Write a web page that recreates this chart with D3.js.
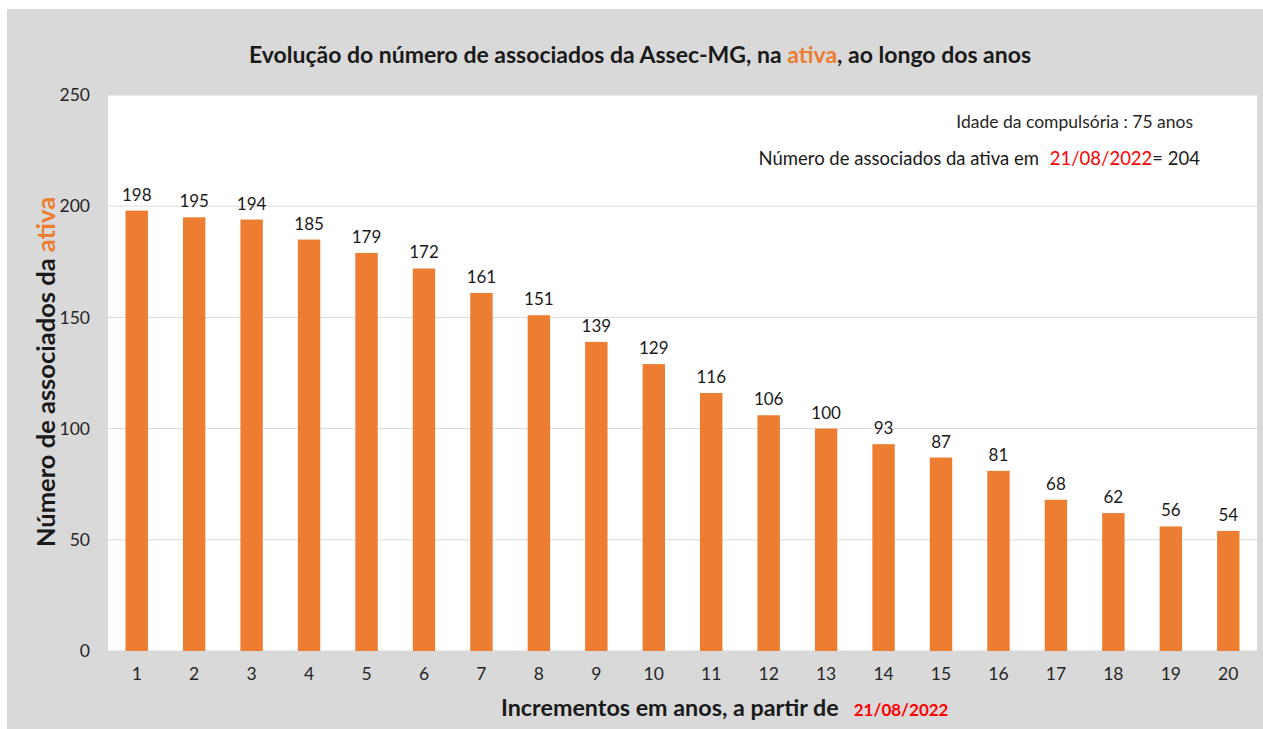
<!DOCTYPE html>
<html>
<head>
<meta charset="utf-8">
<script src="https://cdn.jsdelivr.net/npm/d3@7"></script>
<style>
  body { margin: 0; background: #fff; }
  svg { display: block; font-family: Lato, "Open Sans", sans-serif; }
</style>
</head>
<body>
<svg id="chart"></svg>
<script>
const categories = ['1','2','3','4','5','6','7','8','9','10','11','12','13','14','15','16','17','18','19','20'];
const values = [198,195,194,185,179,172,161,151,139,129,116,106,100,93,87,81,68,62,56,54];
const yTicks = [0,50,100,150,200,250];

const W = 1263, H = 729;
const margin = { top: 95, right: 6, bottom: 78, left: 108 };
const width = W - margin.left - margin.right;
const height = H - margin.top - margin.bottom;
const orange = '#ed7d31';
const red = '#ff0000';

const svgEl = d3.select('#chart').attr('width', W).attr('height', H);

svgEl.append('rect').attr('x', 7).attr('y', 9).attr('width', W - 7).attr('height', H - 9).attr('fill', '#d9d9d9');

const svg = svgEl.append('g').attr('transform', `translate(${margin.left},${margin.top})`);

svg.append('rect').attr('width', width).attr('height', height).attr('fill', '#fff');

const x = d3.scaleBand().domain(categories).range([0, width]).paddingInner(0.61).paddingOuter(0.305);
const y = d3.scaleLinear().domain([0, 250]).range([height, 0]);

// gridlines
svg.append('g')
  .selectAll('line')
  .data(yTicks)
  .join('line')
  .attr('x1', 0).attr('x2', width)
  .attr('y1', d => y(d)).attr('y2', d => y(d))
  .attr('stroke', '#d9d9d9').attr('stroke-width', 1);

// y axis labels
const yAxis = svg.append('g').call(d3.axisLeft(y).tickValues(yTicks).tickSize(0).tickPadding(18));
yAxis.select('.domain').remove();
yAxis.selectAll('text').attr('font-size', 17.5).attr('fill', '#262626').attr('font-family', 'Lato, sans-serif');

// x axis labels
const xAxis = svg.append('g').attr('transform', `translate(0,${height})`)
  .call(d3.axisBottom(x).tickSize(0).tickPadding(17));
xAxis.select('.domain').remove();
xAxis.selectAll('text').attr('font-size', 17.5).attr('fill', '#262626').attr('font-family', 'Lato, sans-serif');

// bars
svg.append('g')
  .selectAll('rect')
  .data(values)
  .join('rect')
  .attr('x', (d, i) => x(categories[i]))
  .attr('y', d => y(d))
  .attr('width', x.bandwidth())
  .attr('height', d => height - y(d))
  .attr('fill', orange);

// data labels
svg.append('g')
  .selectAll('text')
  .data(values)
  .join('text')
  .attr('x', (d, i) => x(categories[i]) + x.bandwidth() / 2)
  .attr('y', d => y(d) - 10)
  .attr('text-anchor', 'middle')
  .attr('font-size', 17)
  .attr('fill', '#1a1a1a')
  .text(d => d);

// title
const title = svgEl.append('text')
  .attr('x', 640).attr('y', 63)
  .attr('text-anchor', 'middle')
  .attr('font-size', 23).attr('font-weight', 'bold').attr('fill', '#1a1a1a');
title.append('tspan').text('Evolução do número de associados da Assec-MG, na ');
title.append('tspan').attr('fill', orange).text('ativa');
title.append('tspan').text(', ao longo dos anos');

// annotations
svgEl.append('text')
  .attr('x', 1193).attr('y', 128)
  .attr('text-anchor', 'end')
  .attr('font-size', 17.5).attr('fill', '#262626')
  .text('Idade da compulsória : 75 anos');

const note = svgEl.append('text')
  .attr('x', 1200).attr('y', 165)
  .attr('text-anchor', 'end')
  .attr('font-size', 18.5).attr('fill', '#1a1a1a');
note.append('tspan').text('Número de associados da ativa em ');
note.append('tspan').attr('fill', red).attr('dx', 6).text('21/08/2022');
note.append('tspan').text('= 204');

// y axis title
const yTitle = svgEl.append('text')
  .attr('transform', `translate(55,${372}) rotate(-90)`)
  .attr('text-anchor', 'middle')
  .attr('font-size', 25.5).attr('font-weight', 'bold').attr('fill', '#1a1a1a');
yTitle.append('tspan').text('Número de associados da ');
yTitle.append('tspan').attr('fill', orange).text('ativa');

// x axis title
const xTitle = svgEl.append('text')
  .attr('x', 501).attr('y', 716)
  .attr('font-size', 23.3).attr('font-weight', 'bold').attr('fill', '#1a1a1a');
xTitle.append('tspan').text('Incrementos em anos, a partir de');
xTitle.append('tspan').attr('dx', 15).attr('font-size', 17).attr('fill', red).text('21/08/2022');
</script>
</body>
</html>
